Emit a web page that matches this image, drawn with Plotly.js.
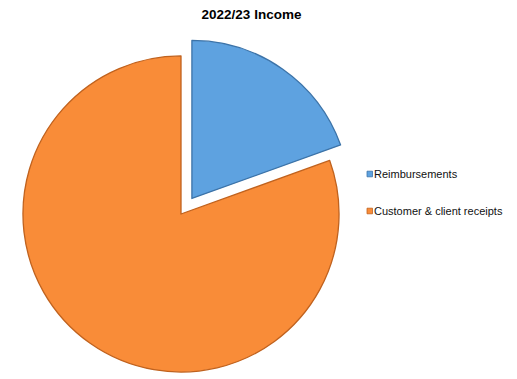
<!DOCTYPE html>
<html>
<head>
<meta charset="utf-8">
<script src="https://cdn.plot.ly/plotly-3.0.1.min.js"></script>
<style>
html,body{margin:0;padding:0;overflow:hidden;background:#fff;width:517px;height:379px;}
#chart{width:517px;height:400px;}
</style>
</head>
<body>
<div id="chart"></div>
<script>
const titleText = "2022/23 Income";
const categories = ["Reimbursements", "Customer & client receipts"];
const values = [19.5, 80.5];
const sliceColors = ["#5EA2E0", "#F98C38"];
const edgeColors = ["#3C73A8", "#C0621E"];

const W = 517, H = 400;
const px = x => x / W;
const py = y => 1 - y / H;

const legendY = [174, 211];
const shapes = [];
const annotations = [];
categories.forEach((c, i) => {
  shapes.push({
    type: "rect", xref: "paper", yref: "paper",
    x0: px(367), x1: px(372.5), y0: py(legendY[i] + 2.8), y1: py(legendY[i] - 2.8),
    fillcolor: sliceColors[i], line: {color: edgeColors[i], width: 0.8}
  });
  annotations.push({
    xref: "paper", yref: "paper", x: px(372), y: py(legendY[i]),
    xanchor: "left", yanchor: "middle", showarrow: false,
    text: c, font: {family: "Liberation Sans, Arial, sans-serif", size: 11, color: "#111"}
  });
});

const data = [{
  type: "pie",
  labels: categories,
  values: values,
  sort: false,
  direction: "clockwise",
  rotation: 0,
  pull: [0.12, 0],
  textinfo: "none",
  hoverinfo: "label+value",
  marker: {colors: sliceColors, line: {color: edgeColors, width: 1.3}},
  domain: {x: [px(4), px(358)], y: [py(391), py(37)]},
  showlegend: false
}];

const layout = {
  width: W, height: H,
  margin: {l: 0, r: 0, t: 0, b: 0},
  paper_bgcolor: "#fff",
  title: {
    text: "<b>" + titleText + "</b>",
    x: px(251.5), xanchor: "center", y: py(14), yanchor: "middle",
    xref: "paper", yref: "container",
    font: {family: "Liberation Sans, Arial, sans-serif", size: 13.5, color: "#000"}
  },
  showlegend: false,
  shapes: shapes,
  annotations: annotations
};

Plotly.newPlot("chart", data, layout, {displayModeBar: false, staticPlot: true});
</script>
</body>
</html>
